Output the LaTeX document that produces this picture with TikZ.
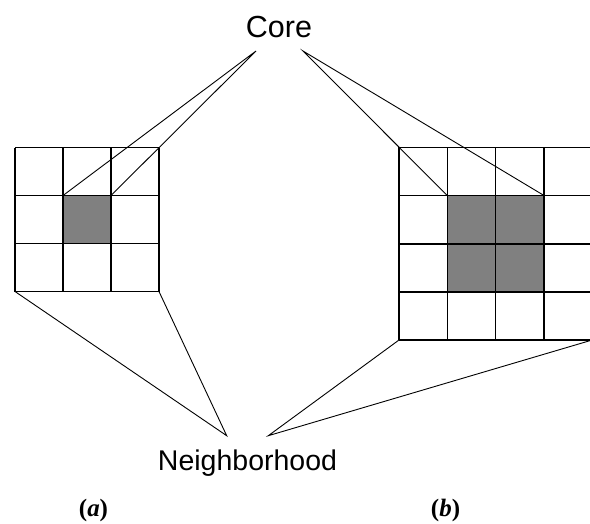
\documentclass[tikz,border=0pt]{standalone}
\usepackage{fontspec}
\setmainfont{Liberation Serif}
\setsansfont{Liberation Sans}
\usetikzlibrary{positioning}

\begin{document}
\begin{tikzpicture}[x=1pt,y=-1pt,
	cellline/.style={draw=black,line width=1.6pt},
	coreline/.style={draw=black,line width=0.9pt},
	label/.style={font=\sffamily\fontsize{28.5}{34}\selectfont,inner sep=0pt,anchor=base},
	tag/.style={font=\fontsize{25}{29}\selectfont\bfseries,inner sep=0pt,anchor=base}]
	\useasboundingbox (0,0) rectangle (590,523);
	\clip (0,0) rectangle (590,523);
	\fill[gray] (63,195.5) rectangle (111,243.5);
	\foreach \i in {0,...,3}
		\draw[cellline] (15+48*\i,147.5) -- (15+48*\i,291.5);
	\foreach \j in {0,...,3}
		\draw[cellline] (15,147.5+48*\j) -- (159,147.5+48*\j);
	\fill[gray] (447.3,195.5) rectangle (544,292.2);
	\foreach \i in {0,...,4}
		\draw[cellline] (399+48.3*\i,147.3) -- (399+48.3*\i,340);
	\foreach \j in {0,...,4}
		\draw[cellline] (399,147.3+48.2*\j) -- (592.2,147.3+48.2*\j);
	\node[label,font=\sffamily\fontsize{30.5}{36}\selectfont] (core) at (279,37) {Core};
	\node[label] (hood) at (247.5,470.5) {Neighborhood};
	\node[tag] (taga) at (93.5,516) {(\textit{a})};
	\node[tag] (tagb) at (445.5,516) {(\textit{b})};
	\coordinate (core-l) at (256,51);
	\coordinate (core-r) at (303,51);
	\coordinate (hood-l) at (226.7,435.7);
	\coordinate (hood-r) at (268.3,435.7);
	\coordinate (a-c1) at (63,195.5);
	\coordinate (a-c2) at (111,195.5);
	\coordinate (a-bl) at (15,291.5);
	\coordinate (a-br) at (159,291.5);
	\coordinate (b-c1) at (447.3,195.5);
	\coordinate (b-c2) at (544,195.5);
	\coordinate (b-bl) at (399,340);
	\coordinate (b-br) at (592.2,340);
	\draw[coreline] (a-c1) -- (core-l) -- (a-c2);
	\draw[coreline] (b-c1) -- (core-r) -- (b-c2);
	\draw[coreline] (a-bl) -- (hood-l) -- (a-br);
	\draw[coreline] (b-bl) -- (hood-r) -- (b-br);
\end{tikzpicture}
\end{document}
